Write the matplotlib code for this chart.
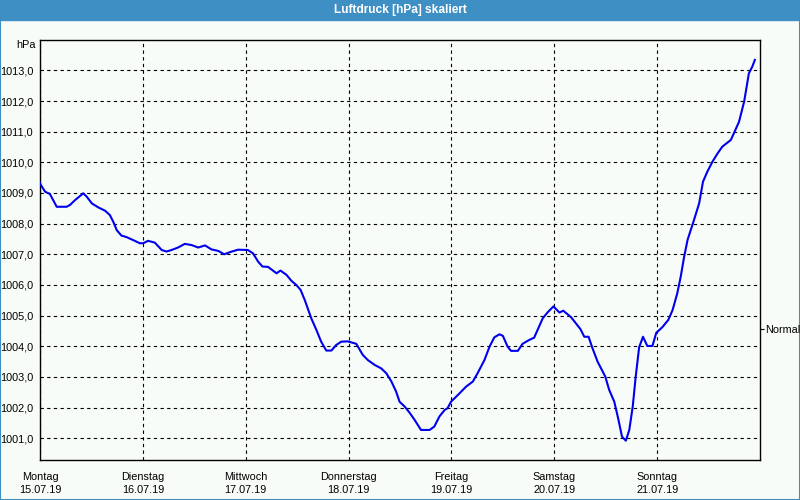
import matplotlib.pyplot as plt
from matplotlib.patches import Rectangle

# air pressure over the week, hours since Monday 00:00
hours = [0.0, 0.2, 1.2, 2.3, 3.9, 6.2, 7.0, 8.2, 10.1, 10.9, 12.1, 13.6, 15.2, 16.3, 17.1,
         17.9, 19.0, 20.2, 22.1, 23.3, 24.1, 25.2, 26.8, 28.4, 29.5, 30.7, 32.2, 33.8,
         35.4, 36.9, 38.5, 40.0, 41.6, 43.0, 44.3, 46.2, 48.5, 49.7, 50.9, 51.9, 53.2,
         55.2, 56.1, 57.5, 58.7, 59.8, 60.8, 61.8, 63.3, 64.5, 65.6, 66.8, 68.0, 69.1,
         70.3, 71.8, 73.8, 75.3, 76.5, 78.1, 79.6, 80.8, 82.0, 83.1, 83.9, 85.1, 86.2,
         87.4, 88.9, 90.9, 92.0, 93.2, 94.4, 95.1, 95.9, 97.5, 99.4, 101.0, 102.1, 103.7,
         104.9, 106.0, 107.2, 108.0, 109.1, 109.9, 111.5, 112.6, 114.2, 115.3, 116.1,
         117.3, 118.4, 119.8, 121.2, 122.1, 123.9, 126.1, 127.0, 128.0, 128.9, 130.1,
         131.9, 132.8, 134.0, 134.9, 135.8, 136.7, 137.5, 138.3, 139.0, 139.8, 140.7,
         141.7, 142.9, 143.8, 145.2, 146.6, 147.6, 148.7, 149.5, 150.3, 151.1, 152.6,
         153.8, 154.7, 155.7, 156.9, 158.1, 159.2, 160.4, 161.2, 161.9, 163.1, 164.3,
         165.4, 166.2, 166.8]
hpa = [1009.32, 1009.26, 1009.04, 1008.97, 1008.55, 1008.55, 1008.61, 1008.77, 1008.99,
       1008.88, 1008.66, 1008.53, 1008.42, 1008.28, 1008.06, 1007.79, 1007.61, 1007.56,
       1007.44, 1007.36, 1007.36, 1007.44, 1007.38, 1007.14, 1007.09, 1007.14, 1007.22,
       1007.34, 1007.30, 1007.22, 1007.29, 1007.16, 1007.11, 1007.00, 1007.07, 1007.15,
       1007.14, 1007.03, 1006.76, 1006.60, 1006.59, 1006.38, 1006.47, 1006.33, 1006.13,
       1006.00, 1005.84, 1005.50, 1004.91, 1004.53, 1004.15, 1003.86, 1003.86, 1004.04,
       1004.15, 1004.16, 1004.08, 1003.72, 1003.55, 1003.39, 1003.28, 1003.12, 1002.85,
       1002.52, 1002.19, 1002.03, 1001.84, 1001.60, 1001.27, 1001.27, 1001.38, 1001.71,
       1001.92, 1001.98, 1002.19, 1002.41, 1002.68, 1002.85, 1003.12, 1003.55, 1003.99,
       1004.29, 1004.39, 1004.34, 1003.99, 1003.85, 1003.85, 1004.08, 1004.21, 1004.28,
       1004.53, 1004.91, 1005.10, 1005.30, 1005.10, 1005.16, 1004.95, 1004.56, 1004.31,
       1004.31, 1003.94, 1003.50, 1003.01, 1002.58, 1002.19, 1001.65, 1001.05, 1000.92,
       1001.27, 1002.03, 1003.01, 1003.97, 1004.31, 1004.01, 1004.01, 1004.44, 1004.62,
       1004.86, 1005.18, 1005.73, 1006.27, 1006.92, 1007.47, 1008.12, 1008.66, 1009.37,
       1009.69, 1010.02, 1010.29, 1010.51, 1010.64, 1010.73, 1010.95, 1011.32, 1011.98,
       1012.90, 1013.12, 1013.34]

days = ['Montag', 'Dienstag', 'Mittwoch', 'Donnerstag', 'Freitag', 'Samstag', 'Sonntag']
dates = ['15.07.19', '16.07.19', '17.07.19', '18.07.19', '19.07.19', '20.07.19', '21.07.19']
y_ticks = list(range(1001, 1014))
normal = 1004.57

plt.rcParams['font.family'] = ['Liberation Sans', 'DejaVu Sans']
bg = '#f8fcf8'
bar = '#3d8fc4'

fig = plt.figure(figsize=(8, 5), dpi=100, facecolor=bg)

# title bar and blue frame
fig.add_artist(Rectangle((0, 0.96), 1, 0.04, transform=fig.transFigure, color=bar, zorder=0))
fig.add_artist(Rectangle((0.0006, 0.001), 0.9988, 0.998, transform=fig.transFigure,
                         fill=False, edgecolor=bar, linewidth=1.5, zorder=0))
fig.text(0.5, 0.98, 'Luftdruck [hPa] skaliert', color='white', fontsize=8.6,
         fontweight='bold', ha='center', va='center')

ax = fig.add_axes([0.05, 0.08, 0.9, 0.84])
ax.set_facecolor(bg)
ax.plot(hours, hpa, color='#0000ee', linewidth=1.5, zorder=3)

ax.set_xlim(0, 168)
ax.set_ylim(1000.29, 1013.99)
ax.set_xticks([24 * i for i in range(7)])
ax.set_xticklabels([d + '\n' + t for d, t in zip(days, dates)], fontsize=7.8, linespacing=1.3)
ax.set_yticks(y_ticks)
ax.set_yticklabels(['%d,0' % v for v in y_ticks], fontsize=7.8)
ax.tick_params(length=0, pad=5)
ax.tick_params(axis='x', pad=9)
ax.grid(True, color='black', linestyle=(0, (3, 3)), linewidth=0.8)
for s in ax.spines.values():
    s.set_linewidth(1.0)
    s.set_color('black')

ax.text(-0.006, 1.0, 'hPa', transform=ax.transAxes, fontsize=7.8, ha='right', va='top')

# "Normal" marker on the right side
ax2 = ax.twinx()
ax2.set_ylim(ax.get_ylim())
ax2.set_yticks([normal])
ax2.set_yticklabels(['Normal'], fontsize=7.8)
ax2.tick_params(length=3, pad=1)
for s in ax2.spines.values():
    s.set_visible(False)

plt.savefig('out.png', dpi=100, facecolor=bg)
